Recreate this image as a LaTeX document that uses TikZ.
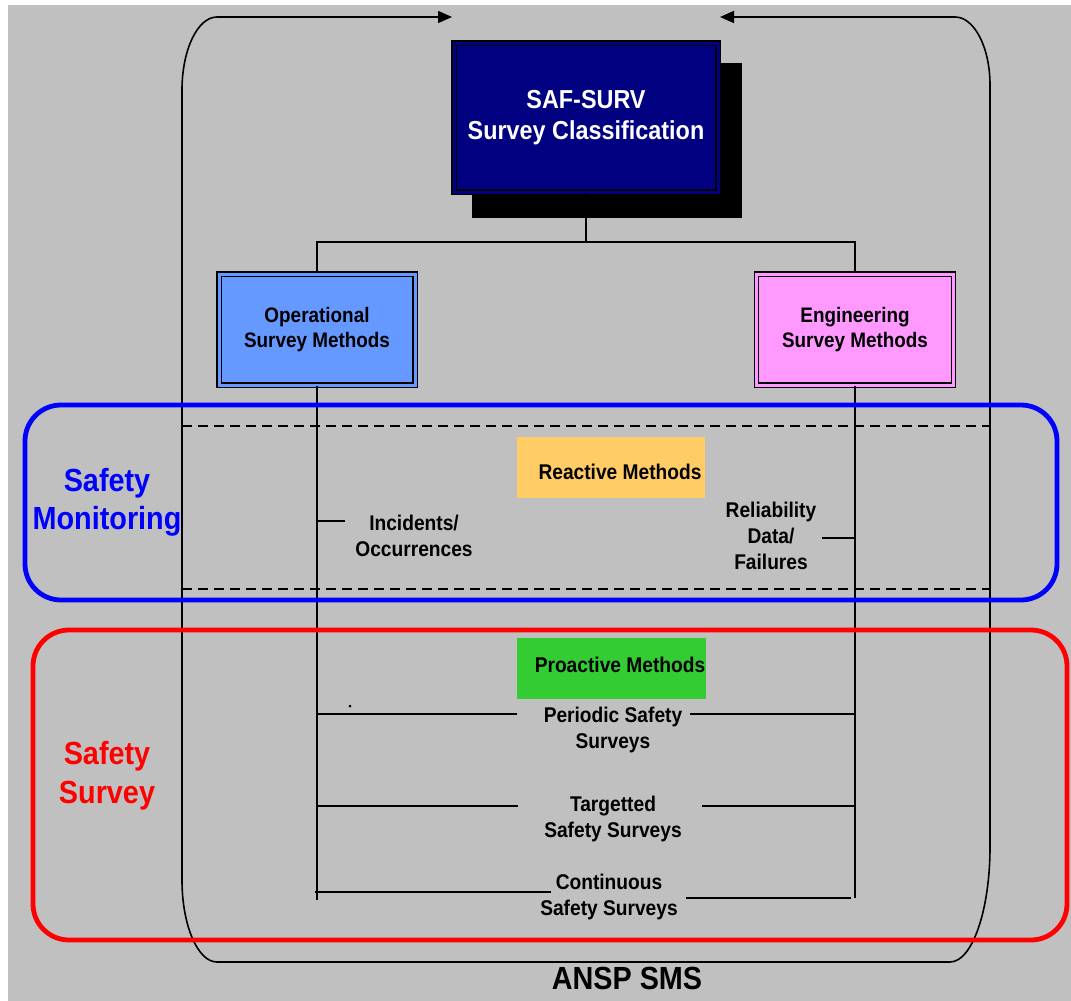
\documentclass[tikz,border=0pt]{standalone}
\usepackage{fontspec}
\setmainfont{Liberation Sans}[FakeStretch=0.9]
\usetikzlibrary{arrows.meta}
\definecolor{bggray}{HTML}{C0C0C0}
\definecolor{navybox}{HTML}{000080}
\definecolor{opblue}{HTML}{6699FF}
\definecolor{engpink}{HTML}{FF99FF}
\definecolor{reactorange}{HTML}{FFCC66}
\definecolor{proactgreen}{HTML}{33CC33}
\tikzset{
  lbl/.style={font=\fontsize{21.3}{26}\selectfont\bfseries, align=center, inner sep=0pt},
  dblbox/.style={draw=black, line width=1.4pt, double distance=3pt, align=center, inner sep=0pt,
    font=\fontsize{21}{25}\selectfont\bfseries},
  colorbox/.style={draw=none, inner sep=0pt},
  spine/.style={line width=2.5pt},
  sep/.style={line width=2.2pt, dash pattern=on 10pt off 6pt},
  sms/.style={line width=1.6pt, -{Triangle[length=14pt,width=12pt]}},
  region/.style={line width=4.8pt, rounded corners=36pt},
}
\begin{document}
\begin{tikzpicture}[x=1pt, y=-1pt]
\useasboundingbox (0,0) rectangle (1071,1001);
\fill[bggray] (8,5) rectangle (1071,1001);

% enclosing SMS outline with the two arrows meeting at the top
\draw[sms] (950,962) -- (217,962) arc[start angle=90, end angle=180, x radius=35, y radius=82]
  -- (182,90) arc[start angle=180, end angle=270, x radius=35, y radius=73] -- (452,17);
\draw[sms] (950,962) arc[start angle=90, end angle=0, x radius=40, y radius=115]
  -- (990,85) arc[start angle=0, end angle=-90, x radius=35, y radius=68] -- (720,17);

% dashed band limits
\draw[sep] (182,426) -- (990,426);
\draw[sep] (182,589) -- (990,589);

% top of the tree
\node[fill=black, minimum width=270pt, minimum height=155pt, inner sep=0pt] (shadow) at (607,140.5) {};
\node[dblbox, fill=navybox, double=navybox, text=white, minimum width=264pt, minimum height=149pt,
  font=\fontsize{26}{31}\selectfont\bfseries] (main) at (586,117.5) {SAF-SURV\\Survey Classification};

\node[dblbox, fill=opblue, double=opblue, minimum width=196pt, minimum height=111pt] (op) at (317,329.5)
  {Operational\\Survey Methods};
\node[dblbox, fill=engpink, double=engpink, minimum width=197pt, minimum height=111pt] (eng) at (855,329.5)
  {Engineering\\Survey Methods};

\coordinate (j) at (586,242);
\draw[spine] (op.north) |- (j) -| (eng.north);
\draw[spine] (main.south) -- (j);

% spines of the two method families
\coordinate (opend) at (317,900);
\coordinate (engend) at (855,898);
\draw[spine] (op.south) -- (opend);
\draw[spine] (eng.south) -- (engend);

% reactive methods
\node[colorbox, fill=reactorange, minimum width=188pt, minimum height=61pt] (reactbox) at (611,467.5) {};
\node[lbl] (reacttxt) at (620,472) {Reactive Methods};
\node[lbl] (incid) at (414,536) {Incidents/\\Occurrences};
\node[lbl] (relia) at (771,536) {Reliability\\Data/\\Failures};
\coordinate (tl) at (317,521);
\coordinate (tla) at (345,521);
\coordinate (tr) at (855,538);
\coordinate (tra) at (822,538);
\draw[spine] (tl) -- (tla);
\draw[spine] (tr) -- (tra);

% proactive methods
\node[colorbox, fill=proactgreen, minimum width=189pt, minimum height=61pt] (proactbox) at (611.5,668.5) {};
\node[lbl] (proacttxt) at (620,665) {Proactive Methods};
\node[lbl] (periodic) at (613,730) {Periodic Safety\\Surveys};
\node[lbl] (target) at (613,819) {Targetted\\Safety Surveys};
\node[lbl] (contin) at (609,897) {Continuous\\Safety Surveys};

\coordinate (pl) at (317,714);  \coordinate (pla) at (517,714);
\coordinate (pr) at (855,714);  \coordinate (pra) at (690,714);
\coordinate (gl) at (317,806);  \coordinate (gla) at (518,806);
\coordinate (gr) at (855,806);  \coordinate (gra) at (702,806);
\coordinate (cl) at (315,892);  \coordinate (cla) at (551,892);
\coordinate (cr) at (851,898);  \coordinate (cra) at (686,898);
\draw[spine] (pl) -- (pla);
\draw[spine] (pra) -- (pr);
\draw[spine] (gl) -- (gla);
\draw[spine] (gra) -- (gr);
\draw[spine] (cl) -- (cla);
\draw[spine] (cra) -- (cr);
\fill (350,706) circle (1.5pt);

% monitoring and survey regions
\draw[region, draw=blue] (25,405) rectangle (1057,600);
\draw[region, draw=red] (33,630) rectangle (1067,940);
\node[lbl, text=blue, font=\fontsize{32}{38}\selectfont\bfseries] (mon) at (107,502) {Safety\\Monitoring};
\node[lbl, text=red, font=\fontsize{32}{39}\selectfont\bfseries] (surv) at (107,776) {Safety\\Survey};

\node[lbl, font=\fontsize{32}{36}\selectfont\bfseries] (ansp) at (627,978) {ANSP SMS};
\end{tikzpicture}
\end{document}
